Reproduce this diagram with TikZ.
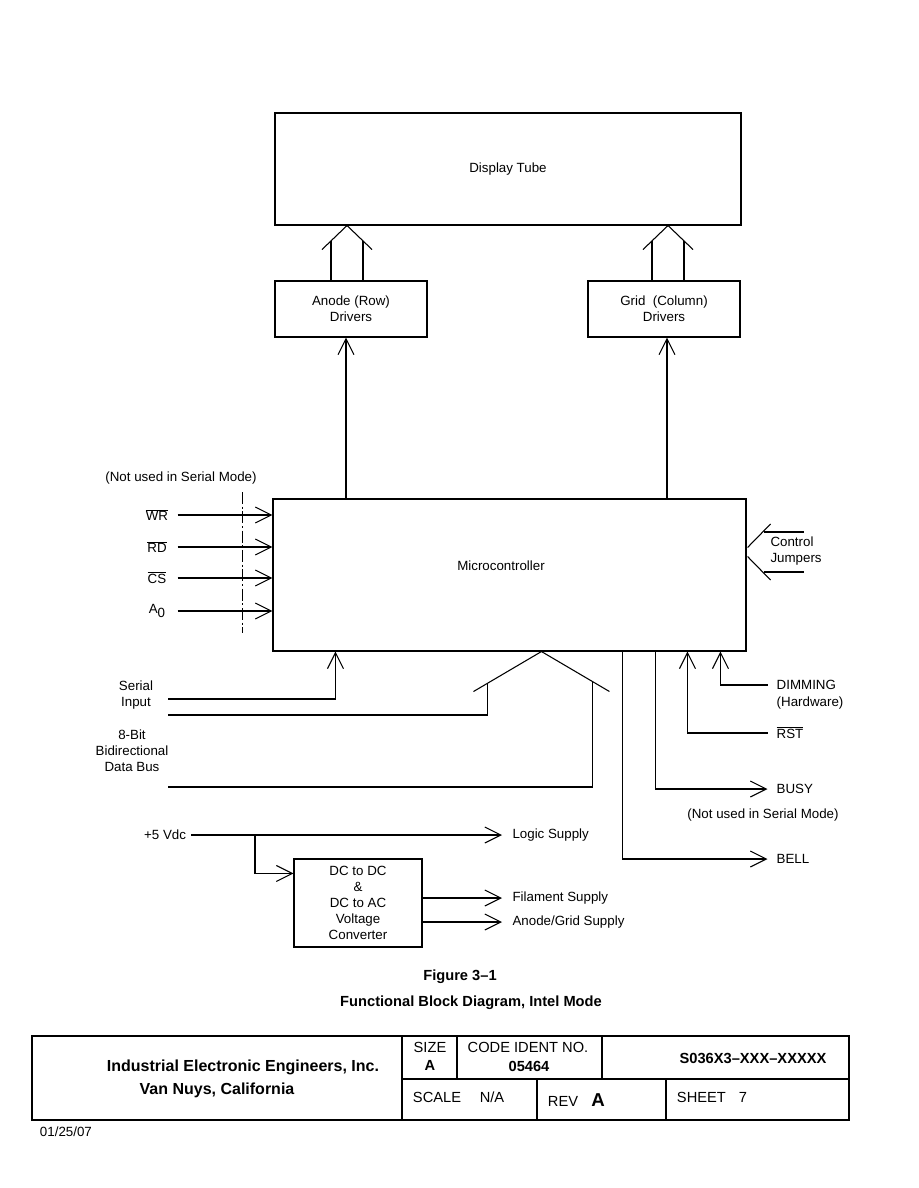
\documentclass[tikz,border=0pt]{standalone}
\usepackage{fontspec}
\setmainfont{Liberation Sans}
\usetikzlibrary{arrows.meta,calc}

\begin{document}
\begin{tikzpicture}[
    x=0.75pt, y=-0.75pt,
    font=\fontsize{10}{12}\selectfont,
    line width=0.8pt,
    blockbox/.style={draw, inner sep=0pt, align=center},
    sig/.style={-{Straight Barb[length=12pt,width=12pt]}},
    inlbl/.style={minimum width=30pt, inner sep=0pt},
    outlbl/.style={anchor=west, inner xsep=6.5pt, inner ysep=0pt, align=left},
    tbtext/.style={font=\fontsize{11}{13}\selectfont},
    tbbold/.style={font=\fontsize{11}{13}\selectfont\bfseries},
    dashdot/.style={line width=0.6pt, dash pattern=on 9pt off 2pt on 1.5pt off 2pt}
  ]
  \useasboundingbox (0,0) rectangle (918,1188);

  % blocks
  \node[blockbox, minimum width=349.5pt, minimum height=84pt] (tube) at (508,169) {Display Tube};
  \node[blockbox, minimum width=114pt, minimum height=42pt] (anode) at (351,309) {Anode (Row)\\Drivers};
  \node[blockbox, minimum width=114pt, minimum height=42pt] (grid) at (664,309) {Grid\ \ (Column)\\Drivers};
  \node[blockbox, minimum width=354.75pt, minimum height=114pt] (micro) at (509.5,575) {};
  \node (microlbl) at (501,566) {Microcontroller};
  \node[blockbox, minimum width=96pt, minimum height=66pt] (conv) at (358,903)
    {DC to DC\\\&\\DC to AC\\Voltage\\Converter};

  % drivers to tube
  \foreach \drv/\dx in {anode/-4, grid/4} {
    \coordinate (tip) at ($(tube.south -| \drv.north)+(\dx,0)$);
    \draw ($(tip)+(-25,24)$) -- (tip) -- ($(tip)+(25,24)$);
    \draw ($(tip)+(-16,15.4)$) -- ($(\drv.north)+(\dx-16,0)$);
    \draw ($(tip)+(16,15.4)$) -- ($(\drv.north)+(\dx+16,0)$);
  }

  % micro to drivers
  \coordinate (aIn) at ([xshift=-3.75pt]anode.south);
  \coordinate (gIn) at ([xshift=2.25pt]grid.south);
  \draw[sig] (micro.north -| aIn) -- (aIn);
  \draw[sig] (micro.north -| gIn) -- (gIn);

  % parallel inputs
  \node (nouseL) at (181,478) {(Not used in Serial Mode)};
  \foreach \nm/\txt/\y in {%
    wr/{$\overline{\mbox{WR}}$}/515,
    rd/{$\overline{\mbox{RD}}$}/547,
    cs/{$\overline{\mbox{CS}}$}/578,
    azero/{A\raisebox{-0.6ex}{0}}/611%
  }{
    \node[inlbl] (\nm) at (157,\y) {\txt};
    \draw[sig] (\nm.east) -- (\nm.east -| micro.west);
  }
  \draw[dashdot] (242,492) -- (242,633);

  % control jumpers
  \coordinate (cj) at ($(micro.east)+(0,-23)$);
  \foreach \s in {-1,1} {
    \draw ($(cj)+(24,28*\s)$) -- ($(cj)+(1,4.5*\s)$);
    \draw ($(cj)+(17,20*\s)$) -- ($(cj)+(57,20*\s)$);
  }
  \node[anchor=west, align=left, inner sep=0pt] (jmp) at (770,551) {Control\\Jumpers};

  % serial input and data bus
  \coordinate (busTip) at ($(micro.south west)+(269,0)$);
  \coordinate (busL) at ($(busTip)+(-68,40)$);
  \coordinate (busR) at ($(busTip)+(68,40)$);
  \draw (busL) -- (busTip) -- (busR);
  \node[align=center] (serlbl) at (136,695) {Serial\\Input};
  \node[align=center] (buslbl) at (132,751) {8-Bit\\Bidirectional\\Data Bus};
  \coordinate (serA) at (168,699);
  \coordinate (serB) at (168,715);
  \coordinate (dbus) at (168,787);
  \draw[sig] (serA) -| ($(micro.south west)+(63,0)$);
  \draw (serB) -| ($(busL)!0.206!(busTip)$);
  \draw (dbus) -| ($(busR)!0.25!(busTip)$);

  % status lines
  \node[outlbl] (dim) at (767.5,685) {DIMMING};
  \node[outlbl] (dimhw) at (767.5,703) {(Hardware)};
  \node[outlbl] (rst) at (767.5,733) {$\overline{\mbox{RST}}$};
  \node[outlbl] (busy) at (767.5,789) {BUSY};
  \node (nouseR) at (763,815) {(Not used in Serial Mode)};
  \node[outlbl] (bell) at (767.5,859) {BELL};
  \draw[sig] (dim.west) -| ($(micro.south west)+(448,0)$);
  \draw[sig] (rst.west) -| ($(micro.south west)+(415,0)$);
  \draw[sig] ($(micro.south west)+(383,0)$) |- (busy.west);
  \draw[sig] ($(micro.south west)+(350,0)$) |- (bell.west);

  % power
  \node[anchor=east] (vdc) at (191,835) {+5 Vdc};
  \node[outlbl, inner xsep=7.5pt] (logic) at (502,835) {Logic Supply};
  \node[outlbl, inner xsep=7.5pt] (fil) at (502,898) {Filament Supply};
  \node[outlbl, inner xsep=7.5pt] (agsup) at (502,922) {Anode/Grid Supply};
  \draw[sig] (vdc.east) -- (logic.west);
  \draw[sig] ([xshift=48pt]vdc.east) |- ([yshift=-11.25pt]conv.north west);
  \foreach \nm in {fil, agsup}
    \draw[sig] (\nm.west -| conv.east) -- (\nm.west);

  % caption
  \node[tbbold] (figno) at (460,977) {Figure 3--1};
  \node[tbbold] (figttl) at (471,1003) {Functional Block Diagram, Intel Mode};

  % title block
  \draw[line width=1.5pt] (32,1036) rectangle (849,1120);
  \draw (402,1079) -- (849,1079);
  \foreach \xa/\ya/\yb in {402/1036/1120, 457/1036/1079, 602/1036/1079,
    537/1079/1120, 666/1079/1120}
    \draw (\xa,\ya) -- (\xa,\yb);
  \node[font=\fontsize{12}{14}\selectfont\bfseries] (ieee) at (243,1067) {Industrial Electronic Engineers, Inc.};
  \node[font=\fontsize{12}{14}\selectfont\bfseries] (city) at (217,1090) {Van Nuys, California};
  \node[tbtext] (size) at (430,1047) {SIZE};
  \node[tbbold] (sizeval) at (430,1065) {A};
  \node[tbtext] (code) at (528,1047) {CODE IDENT NO.};
  \node[tbbold] (codeval) at (529,1066) {05464};
  \node[tbbold] (docno) at (753,1058) {S036X3--XXX--XXXXX};
  \node[tbtext, anchor=west] (scale) at (408,1097) {SCALE};
  \node[tbtext] (scaleval) at (492,1097) {N/A};
  \node[tbtext, anchor=west] (rev) at (543,1101) {REV};
  \node[font=\fontsize{14}{16}\selectfont\bfseries] (revval) at (598,1100) {A};
  \node[tbtext, anchor=west] (sheet) at (672,1097) {SHEET};
  \node[tbtext] (sheetval) at (743,1097) {7};
  \node[anchor=west] (date) at (35,1132) {01/25/07};
\end{tikzpicture}
\end{document}
